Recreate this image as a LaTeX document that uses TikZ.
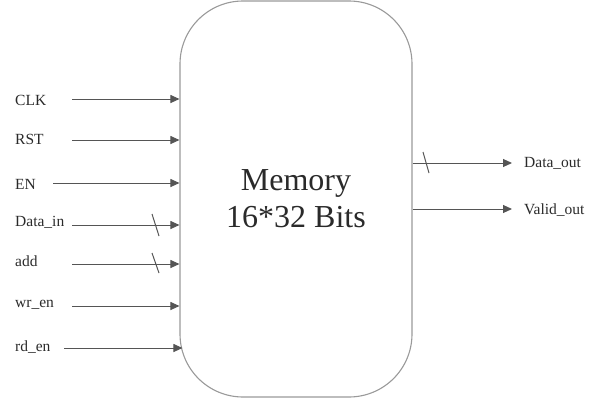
\documentclass[tikz,border=0pt]{standalone}
\usepackage{fontspec}
\setmainfont{Liberation Serif}
\usetikzlibrary{arrows.meta}
\definecolor{boxline}{HTML}{9A9A9A}
\definecolor{wire}{HTML}{555555}
\definecolor{txt}{HTML}{2A2A2A}
\begin{document}
\begin{tikzpicture}[x=1pt,y=-1pt,
  memblock/.style={draw=boxline,line width=1.1pt,rounded corners=63pt,minimum width=232pt,minimum height=396pt,inner sep=0pt,align=center,text=txt,font=\fontsize{32}{37}\selectfont},
  sig/.style={anchor=west,text=txt,font=\fontsize{15.5}{18}\selectfont,inner sep=0pt},
  wirearrow/.style={draw=wire,line width=1pt,-{Triangle[length=9pt,width=8pt]}},
  busmark/.style={draw=wire,line width=1pt}]
\useasboundingbox (0,0) rectangle (613,407);
\node[memblock] (mem) at (296,199) {Memory\\16*32 Bits};
% input labels
\node[sig] (lclk) at (15,100) {CLK};
\node[sig] (lrst) at (15,139) {RST};
\node[sig] (len) at (15,184) {EN};
\node[sig] (ldin) at (15,222) {Data\_in};
\node[sig] (ladd) at (15,261) {add};
\node[sig] (lwr) at (15,305) {wr\_en};
\node[sig] (lrd) at (15,347) {rd\_en};
% input starts
\coordinate (sclk) at (72,99);
\coordinate (srst) at (72,140);
\coordinate (sen) at (53,183);
\coordinate (sdin) at (72,225);
\coordinate (sadd) at (72,264);
\coordinate (swr) at (72,306);
\coordinate (srd) at (64,348);
\draw[wirearrow] (sclk) -- (sclk -| mem.west);
\draw[wirearrow] (srst) -- (srst -| mem.west);
\draw[wirearrow] (sen) -- (sen -| mem.west);
\draw[wirearrow] (sdin) -- (sdin -| mem.west);
\draw[wirearrow] (sadd) -- (sadd -| mem.west);
\draw[wirearrow] (swr) -- (swr -| mem.west);
\draw[wirearrow] (srd) -- ([xshift=3pt]srd -| mem.west);
% bus slashes
\draw[busmark] (152,214) -- (159,236);
\draw[busmark] (152,253) -- (159,273);
% outputs
\coordinate (edout) at (512,163);
\coordinate (evout) at (512,209);
\draw[wirearrow] (edout -| mem.east) -- (edout);
\draw[wirearrow] (evout -| mem.east) -- (evout);
\draw[busmark] (423,152) -- (429,173);
\node[sig] (ldout) at (524,163) {Data\_out};
\node[sig] (lvout) at (524,210) {Valid\_out};
\end{tikzpicture}
\end{document}
